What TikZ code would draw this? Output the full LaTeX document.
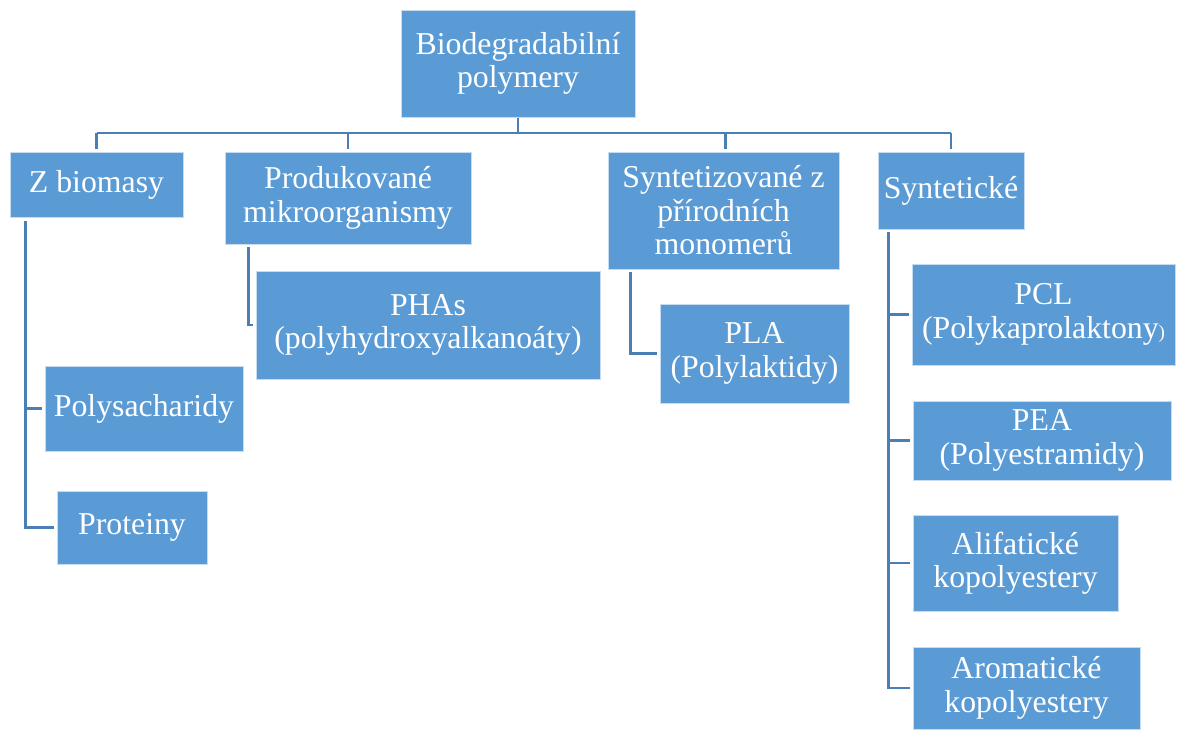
\documentclass[tikz,border=0pt]{standalone}
\usepackage{fontspec}
\setmainfont{Liberation Serif}
\definecolor{boxblue}{HTML}{5B9BD5}
\definecolor{lineblue}{HTML}{4A7EB5}
\begin{document}
\begin{tikzpicture}[x=1pt,y=-1pt,
  box/.style={rectangle, fill=boxblue, draw=white!65!boxblue, line width=0.8pt,
    inner sep=0pt, align=center, text=white,
    font=\fontsize{31.8}{33.5}\selectfont},
  conn/.style={draw=lineblue, line width=2.6pt, shorten >=3pt}]
\useasboundingbox (0,0) rectangle (1177,729);
\node[box, minimum width=234pt, minimum height=107pt] (root) at (518,63.5) {Biodegradabilní\\polymery};
\node[box, minimum width=173pt, minimum height=65pt] (zb) at (96.5,184.5) {Z biomasy};
\node[box, minimum width=246pt, minimum height=92pt] (pm) at (348,198) {Produkované\\mikroorganismy};
\node[box, minimum width=231pt, minimum height=117pt] (sz) at (723.5,210.5) {Syntetizované z\\přírodních\\monomerů};
\node[box, minimum width=146pt, minimum height=77pt] (sy) at (951,190.5) {Syntetické};
\node[box, minimum width=198pt, minimum height=85pt] (ps) at (144,408.5) {Polysacharidy};
\node[box, minimum width=150pt, minimum height=73pt] (pr) at (132,527.5) {Proteiny};
\node[box, minimum width=344pt, minimum height=108pt] (pha) at (428,325) {PHAs\\(polyhydroxyalkanoáty)};
\node[box, minimum width=189pt, minimum height=99pt] (pla) at (754.5,353.5) {PLA\\(Polylaktidy)};
\node[box, minimum width=263pt, minimum height=101pt] (pcl) at (1043.5,314.5) {PCL\\(Polykaprolaktony{\fontsize{19}{19}\selectfont)}};
\node[box, minimum width=258pt, minimum height=79pt] (pea) at (1042,440.5) {PEA\\(Polyestramidy)};
\node[box, minimum width=205pt, minimum height=96pt] (ali) at (1015.5,563) {Alifatické\\kopolyestery};
\node[box, minimum width=227pt, minimum height=82pt] (aro) at (1026.5,688) {Aromatické\\kopolyestery};
\coordinate (bus) at (0,133);
% top level
\draw[conn, shorten <=0pt, shorten >=0pt] ([yshift=-1pt]root.south) -- (root.south |- bus);
\draw[conn, shorten >=0pt] (zb.north |- bus) -- (sy.north |- bus);
\draw[conn] (zb.north |- bus) -- (zb.north);
\draw[conn] (pm.north |- bus) -- (pm.north);
\draw[conn] ([xshift=2pt]sz.north |- bus) -- ([xshift=2pt]sz.north);
\draw[conn] (sy.north |- bus) -- (sy.north);
% children
\draw[conn] ([xshift=16pt,yshift=-4pt]zb.south west) |- (ps.west);
\draw[conn] ([xshift=16pt,yshift=-4pt]zb.south west) |- (pr.west);
\draw[conn] ([xshift=24pt,yshift=-3pt]pm.south west) |- (pha.west);
\draw[conn] ([xshift=23pt,yshift=-3pt]sz.south west) |- (pla.west);
\draw[conn] ([xshift=11pt,yshift=-3pt]sy.south west) |- (pcl.west);
\draw[conn] ([xshift=11pt,yshift=-3pt]sy.south west) |- (pea.west);
\draw[conn] ([xshift=11pt,yshift=-3pt]sy.south west) |- (ali.west);
\draw[conn] ([xshift=11pt,yshift=-3pt]sy.south west) |- (aro.west);
\end{tikzpicture}
\end{document}
